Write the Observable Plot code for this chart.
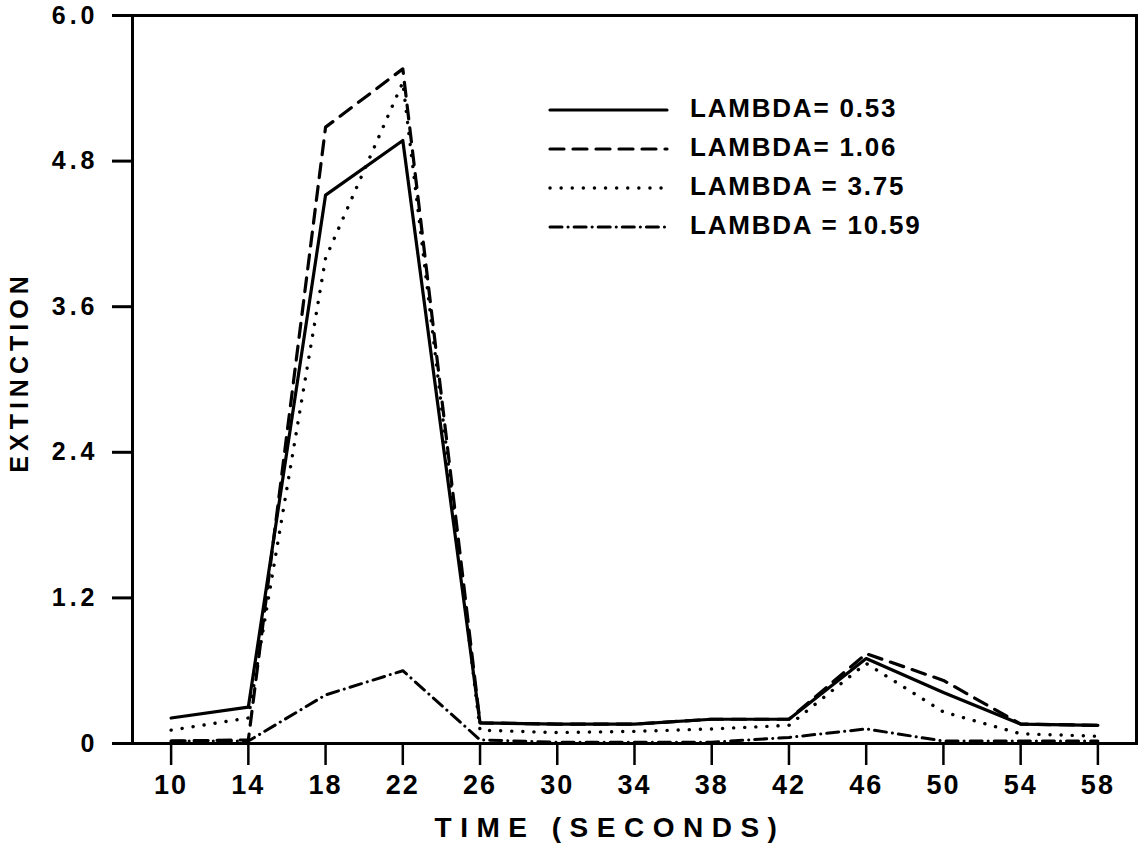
<!DOCTYPE html>
<html>
<head>
<meta charset="utf-8">
<script src="https://cdn.jsdelivr.net/npm/d3@7"></script>
<script src="https://cdn.jsdelivr.net/npm/@observablehq/plot@0.6"></script>
<style>
  html, body { margin: 0; padding: 0; background: white; }
  svg { display: block; }
</style>
</head>
<body>
<div id="chart"></div>
<script>
// ---- data ----
const times = [10, 14, 18, 22, 26, 30, 34, 38, 42, 46, 50, 54, 58];
const lambda053 = [0.21, 0.30, 4.52, 4.97, 0.17, 0.16, 0.16, 0.20, 0.20, 0.70, 0.42, 0.16, 0.15];
const lambda106 = [0.02, 0.03, 5.08, 5.56, 0.17, 0.16, 0.16, 0.20, 0.20, 0.74, 0.52, 0.16, 0.15];
const lambda375 = [0.11, 0.21, 4.00, 5.45, 0.11, 0.09, 0.10, 0.12, 0.15, 0.66, 0.26, 0.08, 0.06];
const lambda1059 = [0.02, 0.02, 0.40, 0.60, 0.03, 0.01, 0.01, 0.01, 0.05, 0.12, 0.02, 0.02, 0.02];
const seriesLabels = ["LAMBDA= 0.53", "LAMBDA= 1.06", "LAMBDA = 3.75", "LAMBDA = 10.59"];
const xTicks = [10, 14, 18, 22, 26, 30, 34, 38, 42, 46, 50, 54, 58];
const yTicks = [0, 1.2, 2.4, 3.6, 4.8, 6.0];
const xTitle = "TIME (SECONDS)";
const yTitle = "EXTINCTION";

// ---- styles ----
const styles = [
  {dash: null, width: 3.2},
  {dash: "14,9", width: 3.2},
  {dash: "0.1,11", width: 3.4},
  {dash: "12,6,0.1,6", width: 3}
];
const allSeries = [lambda053, lambda106, lambda375, lambda1059];
const rows = allSeries.map((vals, s) => times.map((t, i) => ({t, v: vals[i], s})));

const font = "'Liberation Sans', Arial, sans-serif";
const narrow = "'Liberation Sans Narrow', 'Liberation Sans', Arial, sans-serif";

const plot = Plot.plot({
  width: 1139,
  height: 858,
  marginLeft: 132,
  marginRight: 3,
  marginTop: 15,
  marginBottom: 115,
  style: {fontFamily: font, background: "white", color: "black"},
  x: {domain: [8, 60]},
  y: {domain: [0, 6]},
  marks: [
    ...rows.map((r, s) => Plot.line(r, {
      x: "t", y: "v", stroke: "black",
      strokeWidth: styles[s].width,
      strokeDasharray: styles[s].dash,
      strokeLinecap: "round", strokeLinejoin: "round"
    })),
    Plot.frame({stroke: "black", strokeWidth: 3}),
    Plot.axisX({ticks: xTicks, tickSize: 22, tickPadding: 9, tickFormat: d => String(d),
      fontSize: 27, fontWeight: "bold", fontFamily: narrow, strokeWidth: 2.5, label: null}),
    Plot.axisY({ticks: yTicks, tickSize: 20, tickPadding: 14,
      tickFormat: d => d === 0 ? "0" : d.toFixed(1),
      fontSize: 25, fontWeight: "bold", strokeWidth: 3, label: null})
  ]
});

document.getElementById("chart").appendChild(plot);
const svg = d3.select(plot);
svg.selectAll("[aria-label='y-axis tick label'] text")
  .style("letter-spacing", "4px");
svg.selectAll("[aria-label='x-axis tick label'] text")
  .style("letter-spacing", "2px");

// axis titles
svg.append("text")
  .attr("x", 610).attr("y", 830)
  .attr("text-anchor", "middle").attr("dominant-baseline", "middle")
  .style("font-family", font).style("font-weight", "bold").style("font-size", "28px")
  .style("letter-spacing", "8.5px")
  .text(xTitle);
svg.append("text")
  .attr("transform", "translate(21,372) rotate(-90)")
  .attr("text-anchor", "middle").attr("dominant-baseline", "middle")
  .style("font-family", font).style("font-weight", "bold").style("font-size", "25px")
  .style("letter-spacing", "5px")
  .text(yTitle);

// legend
const lg = svg.append("g");
seriesLabels.forEach((lab, i) => {
  const y = 110 + i * 39;
  lg.append("line")
    .attr("x1", 550).attr("x2", 667).attr("y1", y).attr("y2", y)
    .attr("stroke", "black").attr("stroke-width", styles[i].width)
    .attr("stroke-dasharray", styles[i].dash)
    .attr("stroke-linecap", "round");
  lg.append("text")
    .attr("x", 690).attr("y", y)
    .attr("text-anchor", "start")
    .attr("dominant-baseline", "middle")
    .style("font-family", font).style("font-weight", "bold").style("font-size", "26px")
    .style("letter-spacing", "1.8px")
    .text(lab);
});
</script>
</body>
</html>
